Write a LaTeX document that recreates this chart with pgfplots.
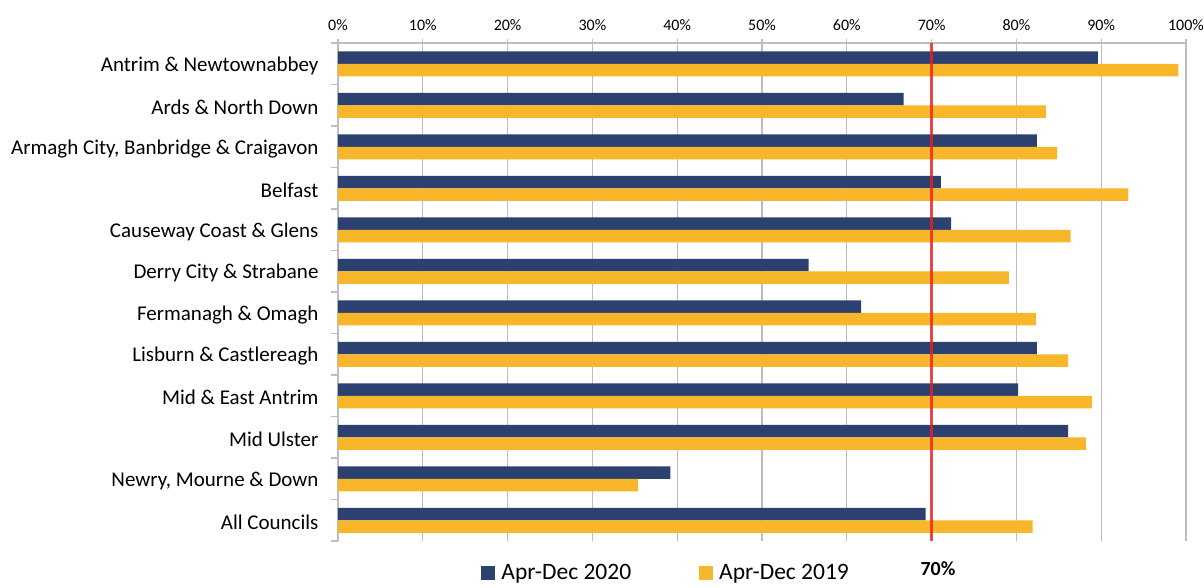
\documentclass[border=0pt]{standalone}
\usepackage{pgfplots}
\pgfplotsset{compat=1.18}
\usepackage{fontspec}
\setmainfont{Carlito}
\definecolor{navy}{RGB}{44,65,112}
\definecolor{gold}{RGB}{248,182,42}
\definecolor{gridgray}{RGB}{190,190,190}
\definecolor{refred}{RGB}{240,30,30}
\begin{document}
\begin{tikzpicture}
\begin{axis}[
  name=ax,
  scale only axis, width=848pt, height=498pt,
  xbar, bar width=12.5pt,
  xmin=0, xmax=100,
  ymin=-0.5, ymax=11.5, y dir=reverse,
  axis x line*=top, axis y line*=left,
  axis line style={gridgray, line width=1.2pt},
  xtick={0,10,...,100},
  xticklabels={0\%,10\%,20\%,30\%,40\%,50\%,60\%,70\%,80\%,90\%,100\%},
  ytick={0,...,11},
  yticklabels={Antrim \& Newtownabbey, Ards \& North Down, {Armagh City, Banbridge \& Craigavon}, Belfast, Causeway Coast \& Glens, Derry City \& Strabane, Fermanagh \& Omagh, Lisburn \& Castlereagh, Mid \& East Antrim, Mid Ulster, {Newry, Mourne \& Down}, All Councils},
  minor ytick={-0.5,0.5,...,11.5},
  tick align=outside,
  major tick length=4pt, minor tick length=7pt,
  major y tick style={draw=none},
  tick style={gridgray, line width=1.2pt},
  xmajorgrids, grid style={gridgray, line width=1.2pt},
  xticklabel style={font=\fontsize{16}{16}\selectfont, text=black, yshift=5pt},
  yticklabel style={font=\fontsize{21}{21}\selectfont, text=black, xshift=-12pt, yshift=-2pt},
  legend style={at={(0.387,-0.064)}, anchor=center, draw=none, fill=none,
    font=\fontsize{23.5}{23.5}\selectfont,
    /tikz/every odd column/.append style={column sep=4pt},
    /tikz/every even column/.append style={column sep=66pt}},
  legend columns=2,
]
\addplot[fill=navy, draw=none, bar shift=6.25pt,
  legend image code/.code={\fill[navy] (0pt,-7pt) rectangle (14pt,7pt);}]
  coordinates {(89.6,0) (66.7,1) (82.4,2) (71.1,3) (72.3,4) (55.5,5) (61.7,6) (82.4,7) (80.2,8) (86.1,9) (39.2,10) (69.3,11)};
\addlegendentry{Apr-Dec 2020}
\addplot[fill=gold, draw=none, bar shift=-6.25pt,
  legend image code/.code={\fill[gold] (0pt,-7pt) rectangle (14pt,7pt);}]
  coordinates {(99.1,0) (83.5,1) (84.8,2) (93.2,3) (86.4,4) (79.1,5) (82.3,6) (86.1,7) (88.9,8) (88.2,9) (35.4,10) (81.9,11)};
\addlegendentry{Apr-Dec 2019}
\addplot[sharp plot, draw=refred, draw opacity=0.8, line width=2.5pt, forget plot]
  coordinates {(70,-0.5) (70,11.5)};
\end{axis}
\node[font=\bfseries\fontsize{20}{20}\selectfont] at ([xshift=600pt,yshift=-28pt]ax.south west) {70\%};
\pgfresetboundingbox
\path[use as bounding box] ([xshift=-338pt,yshift=-46pt]ax.south west) rectangle ([xshift=18pt,yshift=43pt]ax.north east);
\end{tikzpicture}
\end{document}
